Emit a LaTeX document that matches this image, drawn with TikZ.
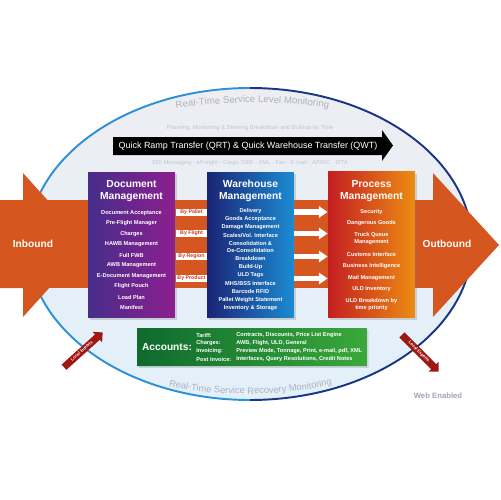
\documentclass[tikz,border=0pt]{standalone}
\usepackage{fontspec}
\setmainfont{Liberation Sans}
\usetikzlibrary{arrows.meta,shapes.arrows,shapes.misc,decorations.text,shadows}

\definecolor{flow}{HTML}{D5561F}
\definecolor{skyfill}{HTML}{E2F0FA}
\definecolor{greyfill}{HTML}{EEEEF2}
\definecolor{rimblue}{HTML}{2C91D8}
\definecolor{rimnavy}{HTML}{1B3585}
\definecolor{faint}{HTML}{C3C5CE}
\definecolor{monitor}{HTML}{B0B0C0}
\definecolor{webgrey}{HTML}{A3A3B3}
\definecolor{tagred}{HTML}{D03A1E}
\definecolor{localred}{HTML}{9E1712}
\definecolor{docleft}{HTML}{472D8A}
\definecolor{docright}{HTML}{8C1F8F}
\definecolor{whleft}{HTML}{1A2475}
\definecolor{whright}{HTML}{1C8BD2}
\definecolor{pmleft}{HTML}{C41E22}
\definecolor{pmright}{HTML}{EC8C12}
\definecolor{accleft}{HTML}{0E6A2E}
\definecolor{accright}{HTML}{3AA83A}

\begin{document}
\begin{tikzpicture}[x=0.02cm, y=-0.02cm,
    mgmt/.style={rectangle, minimum width=1.74cm, minimum height=2.92cm, inner sep=0pt,
      drop shadow={shadow xshift=1.2pt, shadow yshift=-1.2pt, opacity=0.3}},
    boxtitle/.style={text=white, align=center, inner sep=0pt, font=\bfseries\fontsize{5.85}{6.8}\selectfont},
    listitem/.style={text=white, align=center, inner sep=0pt, font=\bfseries\fontsize{3.2}{3.9}\selectfont},
    bylabel/.style={fill=white, text=tagred, inner sep=0pt, minimum width=0.62cm, minimum height=0.14cm,
      font=\bfseries\fontsize{3}{3.5}\selectfont},
    wharrow/.style={white, line width=3.4pt, -{Triangle[width=6.4pt, length=5pt]}},
    greyline/.style={text=faint, inner sep=0pt, font=\fontsize{3.3}{4}\selectfont},
    acct/.style={text=white, anchor=west, inner sep=0pt, font=\bfseries\fontsize{3.2}{3.9}\selectfont},
    bigword/.style={text=white, inner sep=0pt, font=\bfseries\fontsize{5.8}{7}\selectfont},
    localarrow/.style={single arrow, fill=localred, text=white, inner sep=0.7pt, single arrow head extend=2pt,
      minimum height=1.04cm, font=\bfseries\fontsize{2.4}{2.8}\selectfont}
  ]
  \useasboundingbox (0,0) rectangle (500,500);

  % monitoring ellipse
  \fill[top color=greyfill, bottom color=skyfill] (250,244) ellipse[x radius=222, y radius=156];
  \begin{scope}
    \clip (0,0) rectangle (250,500);
    \draw[rimblue, line width=1.1pt] (250,244) ellipse[x radius=222, y radius=156];
  \end{scope}
  \begin{scope}
    \clip (250,0) rectangle (500,500);
    \draw[rimnavy, line width=1.1pt] (250,244) ellipse[x radius=222, y radius=156];
  \end{scope}

  \path[decorate, decoration={text along path, text align=center,
      text={|\fontsize{5.5}{6}\selectfont\color{monitor}|Real-Time Service Level Monitoring}}]
    (170,110) .. controls (215,100.5) and (290,100.5) .. (335,109);
  \node[greyline] (planning) at (250,128) {Planning, Monitoring \& Steering Breakdown and Buildup by Time};

  % QRT / QWT banner
  \fill[black] (113,137) -- (382,137) -- (382,130) -- (393,145.5) -- (382,161) -- (382,155) -- (113,155) -- cycle;
  \node[text=white, inner sep=0pt, font=\fontsize{5.1}{6}\selectfont] (qrt) at (248,146.5)
    {Quick Ramp Transfer (QRT) \& Quick Warehouse Transfer (QWT)};
  \node[greyline] (edi) at (250,163) {EDI Messaging - eFreight - Cargo 2000 - XML - Fax - E-mail - ARINC - SITA};

  % inbound / outbound flow
  \fill[flow] (0,200) -- (23,200) -- (23,173) -- (88,245) -- (23,317) -- (23,288) -- (0,288) -- cycle;
  \fill[flow] (23,200) rectangle (433,288);
  \fill[flow] (433,288) -- (433,317) -- (499,245) -- (433,173) -- (433,200) -- cycle;
  \node[bigword] (inbound) at (33,244) {Inbound};
  \node[bigword] (outbound) at (447,244) {Outbound};

  % Document Management
  \node[mgmt, left color=docleft, right color=docright] (doc) at (131.5,245) {};
  \node[boxtitle] (doctitle) at (131.5,191) {Document\\Management};
  \foreach \t [count=\i] in {Document Acceptance, Pre-Flight Manager, Charges, HAWB Management, Full FWB,
      AWB Management, E-Document Management, Flight Pouch, Load Plan, Manifest}
    \node[listitem] (doc-\i) at (131.5,202.5+10.5*\i) {\t};

  % Warehouse Management
  \node[mgmt, left color=whleft, right color=whright] (wh) at (250.5,245) {};
  \node[boxtitle] (whtitle) at (250.5,191) {Warehouse\\Management};
  \foreach \y/\t [count=\i] in {210.7/Delivery, 219/Goods Acceptance, 227.3/Damage Management,
      235.3/{Scales/Vol. Interface}, 246.7/{Consolidation \&\\De-Consolidation}, 258.3/Breakdown,
      266.7/Build-Up, 274.7/ULD Tags, 283.3/{MHS/BSS Interface}, 291.3/Barcode RFID,
      299.7/Pallet Weight Statement, 307.7/{Inventory \& Storage}}
    \node[listitem] (wh-\i) at (250.5,\y) {\t};

  % Process Management
  \node[mgmt, left color=pmleft, right color=pmright] (pm) at (371.5,244.5) {};
  \node[boxtitle] (pmtitle) at (371.5,191) {Process\\Management};
  \foreach \y/\t [count=\i] in {211.7/Security, 223.3/Dangerous Goods, 238.5/{Truck Queue\\Management},
      254/Customs Interface, 266/Business Intelligence, 277.7/Mail Management, 289.3/ULD Inventory,
      304.7/{ULD Breakdown by\\time priority}}
    \node[listitem] (pm-\i) at (371.5,\y) {\t};

  % grouping tags and hand-over arrows
  \foreach \y/\t [count=\i] in {212/By Pallet, 233.5/By Flight, 256.5/By Region, 278.5/By Product}
    \node[bylabel] (by-\i) at (191.5,\y) {\t};
  \foreach \i in {1,...,4}
    \draw[wharrow] (wh.east |- by-\i) -- (pm.west |- by-\i);

  % Accounts
  \node[chamfered rectangle, chamfered rectangle corners=north west, chamfered rectangle xsep=4pt,
    chamfered rectangle ysep=4pt, inner sep=0pt, minimum width=4.6cm, minimum height=0.76cm,
    left color=accleft, right color=accright,
    drop shadow={shadow xshift=1pt, shadow yshift=-1pt, opacity=0.25}] (acc) at (252,347) {};
  \node[text=white, inner sep=0pt, font=\bfseries\fontsize{5.8}{7}\selectfont] (acctitle) at (167,347) {Accounts:};
  \foreach \y/\k/\v [count=\i] in {335/Tariff:/{Contracts, Discounts, Price List Engine},
      343.3/Charges:/{AWB, Flight, ULD, General},
      351.3/Invoicing:/{Preview Mode, Tonnage, Print, e-mail, pdf, XML},
      359.3/Post Invoice:/{Interfaces, Query Resolutions, Credit Notes}} {
    \node[acct] (acck-\i) at (196,\y) {\k};
    \node[acct] (accv-\i) at (236,\y) {\v};
  }

  \path[decorate, decoration={text along path, text align=center,
      text={|\fontsize{5.3}{6}\selectfont\color{monitor}|Real-Time Service Recovery Monitoring}}]
    (168,386) .. controls (215,397) and (285,397) .. (333,384);

  % local traffic
  \node[localarrow, rotate=42] (imports) at (82,351) {Local Imports};
  \node[localarrow, rotate=-45] (exports) at (419,352) {Local Exports};

  \node[text=webgrey, inner sep=0pt, font=\bfseries\fontsize{4.4}{5}\selectfont] (web) at (438,396) {Web Enabled};
\end{tikzpicture}
\end{document}
